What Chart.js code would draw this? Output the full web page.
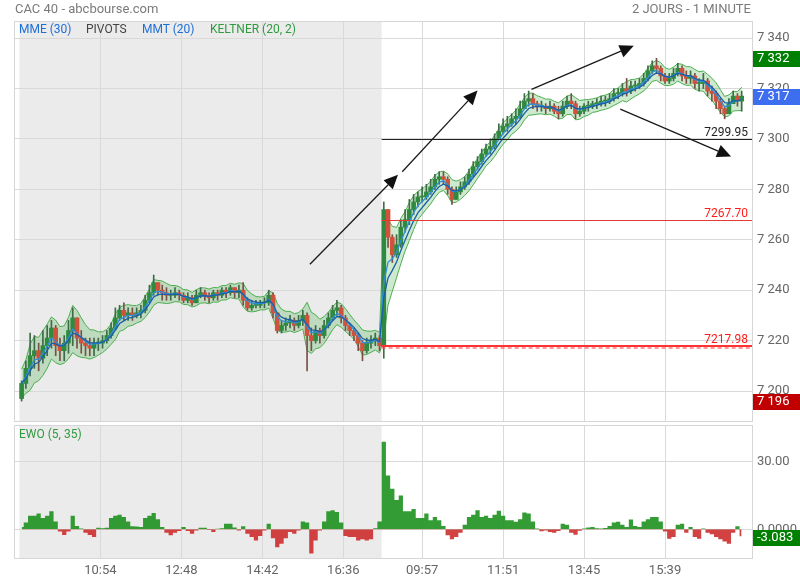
<!DOCTYPE html>
<html>
<head>
<meta charset="utf-8">
<script src="https://cdn.jsdelivr.net/npm/chart.js@4.4.1/dist/chart.umd.min.js"></script>
<style>
  body { margin: 0; background: #fff; font-family: Roboto, sans-serif; }
  #zone { position: relative; width: 800px; height: 580px; overflow: hidden; }
  canvas { position: absolute; left: 0; }
  .txt { position: absolute; font-size: 12px; line-height: 14px; white-space: nowrap; }
</style>
</head>
<body>
<div id="zone">
  <canvas id="graphPrix" width="800" height="430" style="top:0"></canvas>
  <canvas id="graphEwo" width="800" height="160" style="top:420px"></canvas>
  <div class="txt" style="left:15px;top:1px;font-size:13px;line-height:16px;color:#7a7a7a">CAC 40 - abcbourse.com</div>
  <div class="txt" style="right:49px;top:1px;font-size:13px;line-height:16px;color:#7a7a7a">2 JOURS - 1 MINUTE</div>
  <div class="txt" style="left:19px;top:22px;color:#1e6fd6">MME (30)</div>
  <div class="txt" style="left:86px;top:22px;color:#444">PIVOTS</div>
  <div class="txt" style="left:142px;top:22px;color:#1e6fd6">MMT (20)</div>
  <div class="txt" style="left:210px;top:22px;color:#2f9a3f">KELTNER (20, 2)</div>
  <div class="txt" style="left:19px;top:427px;color:#2f9a3f">EWO (5, 35)</div>
</div>
<script>
// bougies de 6 minutes, 9:00 - 17:30 chaque jour
const minutesParBougie = 6;
const finVeille = 510;
const ouvertureVeille = 7197;

const clotureVeille = [
  7203, 7209, 7214, 7216, 7213, 7218, 7221, 7225, 7218, 7216,
  7219, 7224, 7229, 7221, 7219, 7218, 7217, 7219, 7219, 7220,
  7222, 7225, 7229, 7232, 7230, 7231, 7230, 7231, 7232, 7236,
  7239, 7243, 7240, 7239, 7238, 7238, 7239, 7238, 7236, 7237,
  7235, 7238, 7239, 7238, 7237, 7239, 7238, 7240, 7239, 7241,
  7239, 7240, 7236, 7233, 7234, 7234, 7235, 7235, 7238, 7231,
  7224, 7226, 7227, 7228, 7226, 7228, 7230, 7222, 7220, 7224,
  7222, 7226, 7229, 7232, 7233, 7229, 7226, 7224, 7222, 7219,
  7216, 7219, 7220, 7221, 7218
];
const hautVeille = [
  7204, 7212, 7223, 7222, 7219, 7224, 7226, 7228, 7226, 7221,
  7222, 7228, 7233, 7229, 7224, 7221, 7221, 7221, 7221, 7222,
  7224, 7227, 7233, 7234, 7235, 7233, 7233, 7233, 7234, 7238,
  7242, 7246, 7243, 7242, 7241, 7240, 7241, 7240, 7239, 7239,
  7238, 7240, 7241, 7240, 7239, 7240, 7240, 7241, 7241, 7242,
  7241, 7242, 7243, 7237, 7236, 7236, 7236, 7237, 7240, 7239,
  7231, 7228, 7229, 7230, 7229, 7230, 7232, 7231, 7225, 7226,
  7225, 7228, 7231, 7234, 7236, 7234, 7230, 7227, 7225, 7223,
  7220, 7221, 7222, 7223, 7222
];
const basVeille = [
  7196, 7201, 7206, 7209, 7208, 7211, 7214, 7217, 7214, 7212,
  7212, 7215, 7218, 7217, 7215, 7214, 7214, 7214, 7216, 7217,
  7219, 7221, 7224, 7228, 7228, 7228, 7228, 7229, 7229, 7231,
  7235, 7238, 7238, 7236, 7236, 7236, 7237, 7236, 7235, 7235,
  7234, 7235, 7237, 7236, 7235, 7236, 7236, 7237, 7237, 7238,
  7237, 7237, 7234, 7232, 7232, 7233, 7233, 7233, 7234, 7229,
  7223, 7223, 7224, 7225, 7224, 7225, 7226, 7208, 7216, 7219,
  7219, 7221, 7225, 7228, 7230, 7227, 7224, 7222, 7220, 7216,
  7212, 7215, 7217, 7218, 7216
];

const clotureJour = [
  7272, 7261, 7254, 7258, 7265, 7268, 7272, 7275, 7277, 7277,
  7279, 7281, 7284, 7285, 7284, 7280, 7276, 7279, 7281, 7283,
  7286, 7289, 7291, 7294, 7296, 7297, 7300, 7303, 7305, 7306,
  7308, 7309, 7312, 7315, 7316, 7314, 7313, 7313, 7312, 7313,
  7311, 7310, 7313, 7315, 7314, 7310, 7311, 7313, 7313, 7314,
  7314, 7315, 7315, 7316, 7318, 7318, 7320, 7319, 7321, 7321,
  7322, 7324, 7327, 7329, 7328, 7325, 7323, 7324, 7326, 7328,
  7325, 7324, 7325, 7322, 7322, 7323, 7319, 7318, 7315, 7312,
  7310, 7314, 7317, 7315, 7317
];
const hautJour = [
  7275, 7270, 7262, 7262, 7268, 7272, 7276, 7278, 7279, 7281,
  7282, 7284, 7286, 7287, 7287, 7285, 7281, 7281, 7283, 7285,
  7288, 7291, 7293, 7296, 7298, 7300, 7302, 7306, 7308, 7309,
  7310, 7312, 7315, 7318, 7319, 7318, 7315, 7315, 7314, 7315,
  7314, 7313, 7315, 7317, 7318, 7315, 7313, 7314, 7315, 7315,
  7316, 7317, 7317, 7318, 7320, 7320, 7322, 7324, 7323, 7323,
  7324, 7326, 7329, 7331, 7332, 7329, 7326, 7326, 7328, 7330,
  7329, 7327, 7327, 7326, 7324, 7326, 7324, 7321, 7319, 7316,
  7313, 7316, 7319, 7318, 7319
];
const basJour = [
  7213, 7257, 7251, 7253, 7257, 7263, 7266, 7270, 7273, 7275,
  7276, 7278, 7280, 7282, 7282, 7278, 7274, 7276, 7278, 7280,
  7282, 7285, 7288, 7290, 7293, 7294, 7296, 7300, 7302, 7303,
  7305, 7306, 7308, 7312, 7313, 7312, 7311, 7311, 7310, 7311,
  7310, 7308, 7309, 7312, 7312, 7308, 7309, 7310, 7311, 7312,
  7312, 7313, 7313, 7314, 7315, 7316, 7317, 7317, 7318, 7319,
  7320, 7321, 7323, 7326, 7326, 7323, 7322, 7322, 7323, 7325,
  7323, 7322, 7322, 7320, 7319, 7320, 7317, 7315, 7312, 7310,
  7308, 7310, 7314, 7313, 7311
];

const ewoVeille = [
  1, 3, 6, 6, 7, 5, 6, 8, 3.5, -1,
  -2.5, -1, 6, 1.5, 0.3, -1.5, -2.5, -3.5, 0.7, 0.5,
  0.7, 5, 6, 6.5, 5.5, 3.5, 1.3, 1.2, 1, 5,
  6, 7.3, 4.5, 1, -1.5, -2.7, -1.5, -0.8, 1, -0.8,
  -2, -0.5, 0.7, 0.7, -0.3, -1.2, 0.2, 0.5, 2.5, 2.5,
  0.8, -0.5, 1.3, -2, -3.5, -5, -3, -0.5, 2.5, -4,
  -8, -6.5, -4, -1.2, -2, -0.5, 3.5, 3, -10.8, -5,
  -0.5, 3.5, 8, 8.5, 7.7, 3, -3, -3.4, -3.5, -5,
  -4.5, -5, -4.5, 0.5, 3.5
];
const ewoJour = [
  39, 24, 18, 13, 15, 8, 8, 9, 5, 5,
  7, 4, 5.5, 4, 1.5, -2.7, -4.5, -3.5, -1.5, 2,
  5.5, 6.5, 8.5, 5.5, 6, 5, 6.5, 8.2, 6, 4,
  4, 3.3, 4.5, 7.5, 7, 3.5, 0.3, -0.9, -0.5, -1.2,
  -1.5, -0.8, 2.5, 2, -1.5, -2.4, -0.7, 0.3, 0.8, 1,
  0.5, 0.3, 0.6, 1.5, 3, 3.3, 2, 1, 4.3, 1.5,
  1, 3.5, 4.5, 5.5, 5.5, 3.5, -1, -4.2, -3.5, 2,
  2.5, -1.6, 1, -3.5, -4.2, 0.3, -1.5, -2.2, -3.5, -4.5,
  -5.5, -6.5, -1.5, 1.3, -3.083
];

const heureTicks = [114, 228, 342, 456, 567, 681, 795, 909];
const heureLabels = ['10:54', '12:48', '14:42', '16:36', '09:57', '11:51', '13:45', '15:39'];
const prixTicks = [7200, 7220, 7240, 7260, 7280, 7300, 7320, 7340];
const ewoTicks = [0, 30];
const ewoLabels = ['0.0000', '30.00'];

const pivots = [
  { valeur: 7299.95, couleur: '#222222', texte: '#222222' },
  { valeur: 7267.70, couleur: '#e53935', texte: '#ff1a1a' },
  { valeur: 7217.98, couleur: '#ff3333', texte: '#ff1a1a' }
];
// flèches tracées à la main : [minute, prix] -> [minute, prix]
const fleches = [
  [409, 7250.3, 533, 7285.8],
  [539, 7287.0, 645, 7319.2],
  [721, 7319.7, 865, 7337.0],
  [846, 7311.8, 1002, 7293.0]
];
const reperesPrix = [
  { valeur: 7332, couleur: '#008000' },
  { valeur: 7317, couleur: '#3d6ef0' },
  { valeur: 7196, couleur: '#c00000' }
];

// ---- construction des séries ----
const cloture = clotureVeille.concat(clotureJour);
const haut = hautVeille.concat(hautJour);
const bas = basVeille.concat(basJour);
const ewo = ewoVeille.concat(ewoJour);
const ouverture = cloture.map((c, i) => i === 0 ? ouvertureVeille : cloture[i - 1]);
const minute = cloture.map((c, i) => i * minutesParBougie + minutesParBougie / 2);

// moyenne mobile exponentielle, période en minutes
function mme(valeurs, periode) {
  const a = 1 - Math.pow(1 - 2 / (periode + 1), minutesParBougie);
  let e = valeurs[0];
  return valeurs.map(v => (e += a * (v - e)));
}

const mme30 = mme(cloture, 30);
const mmt20 = mme(cloture, 20);
const vraiRange = cloture.map((c, i) => Math.max(
  haut[i] - bas[i], Math.abs(haut[i] - ouverture[i]), Math.abs(bas[i] - ouverture[i])));
const atr = mme(vraiRange, 20).map(v => v / 2.8);
const keltnerHaut = mmt20.map((m, i) => m + 2 * atr[i]);
const keltnerBas = mmt20.map((m, i) => m - 2 * atr[i]);

const pts = arr => arr.map((v, i) => ({ x: minute[i], y: v }));
const hausse = i => cloture[i] >= ouverture[i];

function fmtPrix(v) {
  return String(v).replace(/\B(?=(\d{3})+(?!\d))/g, ' ');
}

Chart.defaults.font.family = 'Roboto';
Chart.defaults.font.size = 13;
Chart.defaults.color = '#666';

const xMin = -6.3, xMax = 1031.5;

const fondVeille = {
  id: 'fondVeille',
  beforeDraw(chart) {
    const { ctx, chartArea: a, scales: { x } } = chart;
    const x0 = x.getPixelForValue(0), x1 = x.getPixelForValue(finVeille);
    ctx.save();
    ctx.fillStyle = '#ebebeb';
    ctx.fillRect(x0, a.top, x1 - x0, a.bottom - a.top);
    ctx.restore();
  },
  afterDraw(chart) {
    const { ctx, chartArea: a } = chart;
    ctx.save();
    ctx.strokeStyle = '#d6d6d6';
    ctx.lineWidth = 1;
    ctx.strokeRect(Math.round(a.left) - 0.5, Math.round(a.top) - 0.5,
      Math.round(a.right - a.left) + 1, Math.round(a.bottom - a.top) + 1);
    ctx.restore();
  }
};

function fleche(ctx, x1, y1, x2, y2) {
  const ang = Math.atan2(y2 - y1, x2 - x1), L = 14, W = 6.5;
  const bx = x2 - L * Math.cos(ang), by = y2 - L * Math.sin(ang);
  ctx.beginPath();
  ctx.moveTo(x1, y1);
  ctx.lineTo(bx, by);
  ctx.stroke();
  ctx.beginPath();
  ctx.moveTo(x2, y2);
  ctx.lineTo(bx + W * Math.sin(ang), by - W * Math.cos(ang));
  ctx.lineTo(bx - W * Math.sin(ang), by + W * Math.cos(ang));
  ctx.closePath();
  ctx.fill();
}

function etiquette(ctx, chart, py, couleur, texte) {
  const r = chart.chartArea.right;
  ctx.fillStyle = couleur;
  ctx.fillRect(r + 1, Math.round(py) - 7, chart.width - r - 1, 16);
  ctx.fillStyle = '#fff';
  ctx.font = '13px Roboto';
  ctx.textAlign = 'left';
  ctx.textBaseline = 'middle';
  ctx.fillText(texte, r + 5, Math.round(py) + 1);
}

const annotationsPrix = {
  id: 'annotationsPrix',
  afterDatasetsDraw(chart) {
    const { ctx, chartArea: a, scales: { x, y } } = chart;
    const xd = x.getPixelForValue(finVeille);
    ctx.save();
    ctx.font = '12px Roboto';
    ctx.textAlign = 'right';
    ctx.textBaseline = 'bottom';
    pivots.forEach((p, i) => {
      const py = Math.round(y.getPixelForValue(p.valeur)) + 0.5;
      ctx.strokeStyle = p.couleur;
      if (i === 2) {
        ctx.lineWidth = 2;
        ctx.beginPath(); ctx.moveTo(xd, py - 0.5); ctx.lineTo(a.right, py - 0.5); ctx.stroke();
        ctx.lineWidth = 1;
        ctx.setLineDash([4, 3]);
        ctx.beginPath(); ctx.moveTo(xd, py + 1.5); ctx.lineTo(a.right, py + 1.5); ctx.stroke();
        ctx.setLineDash([]);
      } else {
        ctx.lineWidth = 1;
        ctx.beginPath(); ctx.moveTo(xd, py); ctx.lineTo(a.right, py); ctx.stroke();
      }
      ctx.fillStyle = p.texte;
      ctx.fillText(p.valeur.toFixed(2), a.right - 4, py - 1);
    });
    ctx.strokeStyle = '#1a1a1a';
    ctx.fillStyle = '#111';
    ctx.lineWidth = 1.3;
    fleches.forEach(f => {
      fleche(ctx, x.getPixelForValue(f[0]), y.getPixelForValue(f[1]),
        x.getPixelForValue(f[2]), y.getPixelForValue(f[3]));
    });
    ctx.restore();
  },
  afterDraw(chart) {
    const { ctx, scales: { y } } = chart;
    ctx.save();
    reperesPrix.forEach(r => etiquette(ctx, chart, y.getPixelForValue(r.valeur), r.couleur, fmtPrix(r.valeur)));
    ctx.restore();
  }
};

const derniereEwo = ewo[ewo.length - 1];
const annotationsEwo = {
  id: 'annotationsEwo',
  afterDraw(chart) {
    const { ctx, scales: { y } } = chart;
    ctx.save();
    etiquette(ctx, chart, y.getPixelForValue(derniereEwo) + 1, '#008000', derniereEwo.toFixed(3));
    ctx.restore();
  }
};

const axeXCommun = {
  type: 'linear',
  min: xMin,
  max: xMax,
  offset: false,
  afterBuildTicks: s => { s.ticks = heureTicks.map(v => ({ value: v })); },
  grid: { color: '#d9d9d9', drawTicks: false, offset: false },
  border: { display: false }
};

// axe de droite de largeur fixe, sans marge verticale ajoutée par Chart.js
const axeDroit = s => { s.width = 48; s.paddingTop = 0; s.paddingBottom = 0; };

new Chart(document.getElementById('graphPrix'), {
  type: 'bar',
  data: {
    datasets: [
      {
        type: 'line', label: 'Keltner haut', data: pts(keltnerHaut),
        borderColor: '#4caf50', borderWidth: 1, pointRadius: 0, tension: 0,
        fill: '+1', backgroundColor: 'rgba(76,175,80,0.28)', order: 6
      },
      {
        type: 'line', label: 'Keltner bas', data: pts(keltnerBas),
        borderColor: '#4caf50', borderWidth: 1, pointRadius: 0, tension: 0,
        fill: false, order: 6
      },
      {
        label: 'Mèches', grouped: false, order: 5,
        data: minute.map((m, i) => ({ x: m, y: [bas[i], Math.max(haut[i], ouverture[i], cloture[i])] })),
        backgroundColor: minute.map((m, i) => hausse(i) ? '#3f6a4a' : '#7a4f46'),
        barThickness: 1
      },
      {
        label: 'Bougies', grouped: false, order: 4,
        data: minute.map((m, i) => ({ x: m, y: [ouverture[i], cloture[i]] })),
        backgroundColor: minute.map((m, i) => hausse(i) ? '#2f8a3f' : '#d0513c'),
        barThickness: 4, minBarLength: 1
      },
      {
        type: 'line', label: 'MMT (20)', data: pts(mmt20),
        borderColor: '#2f8fd8', borderWidth: 1.3, pointRadius: 0, tension: 0, order: 2
      },
      {
        type: 'line', label: 'MME (30)', data: pts(mme30),
        borderColor: '#1b5ea8', borderWidth: 1.3, pointRadius: 0, tension: 0, order: 1
      }
    ]
  },
  options: {
    responsive: false,
    animation: false,
    layout: { padding: { left: 15, top: 22, right: 0, bottom: 9 }, autoPadding: false },
    plugins: { legend: { display: false }, tooltip: { enabled: false } },
    scales: {
      x: Object.assign({}, axeXCommun, {
        ticks: { display: false },
        afterFit: s => { s.height = 0; s.paddingLeft = 0; s.paddingRight = 0; }
      }),
      y: {
        position: 'right',
        min: 7188.1,
        max: 7346.4,
        afterBuildTicks: s => { s.ticks = prixTicks.map(v => ({ value: v })); },
        afterFit: axeDroit,
        ticks: { padding: 5, color: '#666', callback: v => fmtPrix(v) },
        grid: { color: '#d9d9d9', drawTicks: false },
        border: { display: false }
      }
    }
  },
  plugins: [fondVeille, annotationsPrix]
});

new Chart(document.getElementById('graphEwo'), {
  type: 'line',
  data: {
    datasets: [{
      label: 'EWO (5, 35)',
      data: minute.map((m, i) => ({ x: m, y: ewo[i] })),
      stepped: 'middle',
      borderWidth: 0,
      pointRadius: 0,
      fill: { target: 'origin', above: 'rgba(30,145,30,0.9)', below: 'rgba(205,45,45,0.9)' }
    }]
  },
  options: {
    responsive: false,
    animation: false,
    layout: { padding: { left: 15, top: 6, right: 0, bottom: 0 }, autoPadding: false },
    plugins: { legend: { display: false }, tooltip: { enabled: false } },
    scales: {
      x: Object.assign({}, axeXCommun, {
        ticks: { padding: 5, color: '#666', maxRotation: 0, autoSkip: false, callback: (v, i) => heureLabels[i] },
        afterFit: s => { s.height = 22; s.paddingLeft = 0; s.paddingRight = 0; }
      }),
      y: {
        position: 'right',
        min: -12.8,
        max: 46,
        afterBuildTicks: s => { s.ticks = ewoTicks.map(v => ({ value: v })); },
        afterFit: axeDroit,
        ticks: { padding: 5, color: '#666', callback: (v, i) => ewoLabels[i] },
        grid: { color: '#d9d9d9', drawTicks: false },
        border: { display: false }
      }
    }
  },
  plugins: [fondVeille, annotationsEwo]
});
</script>
</body>
</html>
